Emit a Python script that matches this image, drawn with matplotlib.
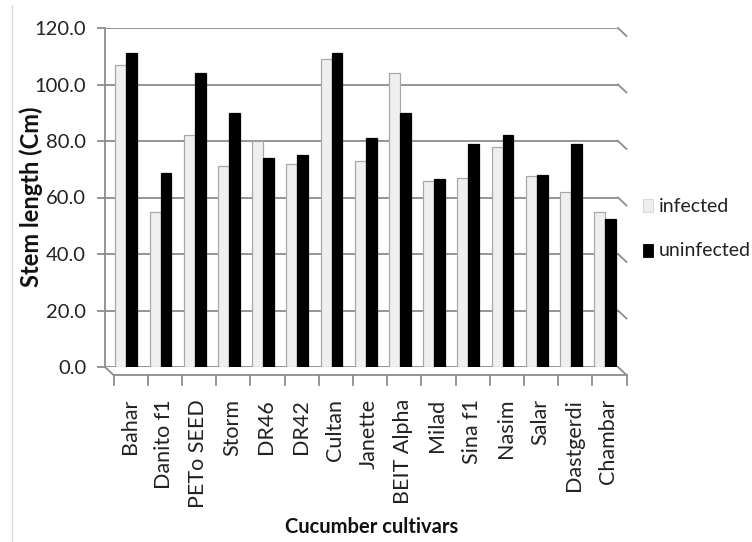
import matplotlib
matplotlib.use("Agg")
import matplotlib.pyplot as plt
from matplotlib.lines import Line2D
from matplotlib.patches import Rectangle
import numpy as np

cultivars = ["Bahar", "Danito f1", "PETo SEED", "Storm", "DR46", "DR42", "Cultan",
             "Janette", "BEIT Alpha", "Milad", "Sina f1", "Nasim", "Salar",
             "Dastgerdi", "Chambar"]
infected = [107, 55, 82, 71, 80, 72, 109, 73, 104, 66, 67, 78, 67.5, 62, 55]
uninfected = [111, 68.5, 104, 90, 74, 75, 111, 81, 90, 66.5, 79, 82, 68, 79, 52.5]
yticks = [0, 20, 40, 60, 80, 100, 120]

plt.rcParams['font.family'] = ['Lato', 'DejaVu Sans']

W, H = 752, 542
fig = plt.figure(figsize=(W / 100, H / 100), dpi=100)

def fx(px):
    return px / W

def fy(py):
    return 1 - py / H

# back plane geometry (pixels)
bx0, bx1, by0, by1 = 105, 618, 367, 28
dx, dy = 8.5, 8  # depth offset to front plane
grid_c = '#8c8c8c'

# back axes: gridlines and y tick labels
axb = fig.add_axes([fx(bx0), fy(by0), fx(bx1 - bx0), (by0 - by1) / H])
axb.set_xlim(-0.5, 14.5)
axb.set_ylim(0, 120)
axb.set_facecolor('none')
for s in axb.spines.values():
    s.set_visible(False)
axb.spines['left'].set_visible(True)
axb.spines['left'].set_color(grid_c)
axb.spines['left'].set_linewidth(1.3)
axb.set_yticks(yticks)
axb.set_yticklabels([f"{v:.1f}" for v in yticks], fontsize=14.5, color='#222222')
axb.tick_params(axis='y', length=5.5, width=1.3, color=grid_c, pad=8)
axb.set_xticks([])
for v in yticks:
    axb.axhline(v, color=grid_c, lw=1.3, zorder=0)
fig.text(fx(31), fy(197), "Stem length (Cm)", rotation=90, ha='center', va='center',
         fontsize=17, fontweight='bold', color='#111111')

# bar axes, shifted toward the front horizontally
ax = fig.add_axes([fx(bx0 + dx / 2), fy(by0), fx(bx1 - bx0), (by0 - by1) / H])
ax.set_xlim(-0.5, 14.5)
ax.set_ylim(0, 120)
ax.set_facecolor('none')
ax.axis('off')
x = np.arange(len(cultivars))
w = 0.32
ax.bar(x - w / 2, infected, width=w, color='#efefef', edgecolor='#a8a8a8',
       linewidth=0.9, zorder=3)
ax.bar(x + w / 2, uninfected, width=w, color='#000000', edgecolor='#000000',
       linewidth=0.9, zorder=3)

def line(xs, ys, **kw):
    fig.add_artist(Line2D([fx(v) for v in xs], [fy(v) for v in ys],
                          transform=fig.transFigure, **kw))

# slanted ends of gridlines on right
for v in yticks:
    py = by0 - (by0 - by1) * v / 120
    line([bx1, bx1 + dx], [py, py + dy], color=grid_c, lw=1.3)
# floor
line([bx0, bx0 + dx], [by0, by0 + dy], color=grid_c, lw=1.3)
line([bx0 + dx, bx1 + dx], [by0 + dy, by0 + dy], color=grid_c, lw=1.3)
# category ticks below front edge
step = (bx1 - bx0) / 15
for k in range(16):
    px = bx0 + dx + k * step
    line([px, px], [by0 + dy, by0 + dy + 10], color=grid_c, lw=1.3)

# x tick labels
for i, name in enumerate(cultivars):
    px = bx0 + dx + (i + 0.5) * step - 1
    fig.text(fx(px), fy(399), name, rotation=90, ha='center', va='top',
             fontsize=15.5, color='#222222')

fig.text(fx(372), fy(527), "Cucumber cultivars", ha='center', va='center',
         fontsize=14.5, fontweight='bold', color='#111111')

# legend
fig.add_artist(Rectangle((fx(643), fy(212)), fx(10), 13 / H, transform=fig.transFigure,
                         facecolor='#eeeeee', edgecolor='#d0d0d0', lw=0.6))
fig.add_artist(Rectangle((fx(643), fy(257)), fx(10), 13 / H, transform=fig.transFigure,
                         facecolor='#000000', edgecolor='#000000', lw=0.6))
fig.text(fx(659), fy(206), "infected", ha='left', va='center', fontsize=14, color='#222222')
fig.text(fx(659), fy(250), "uninfected", ha='left', va='center', fontsize=14, color='#222222')

# faint left border
line([12, 12], [5, 542], color='#d9d9d9', lw=1.0)

fig.savefig("out.png", dpi=100)
